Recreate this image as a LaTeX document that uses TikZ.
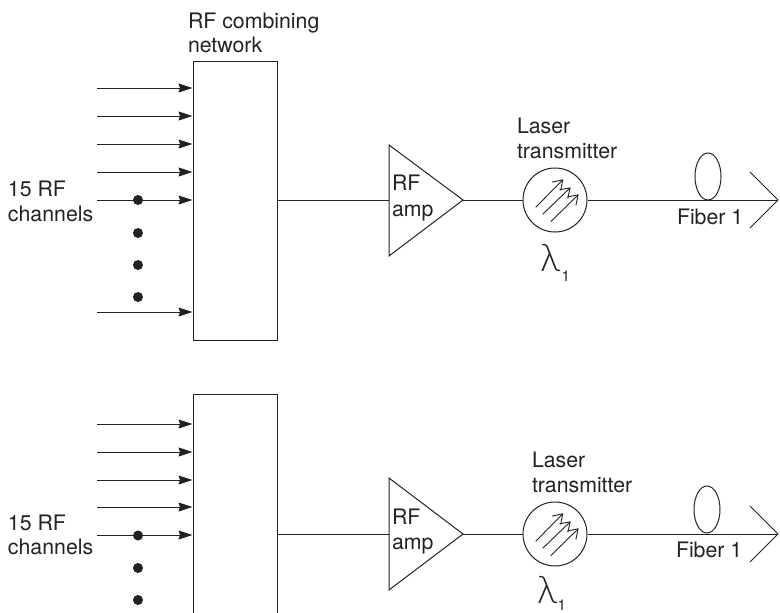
\documentclass[tikz,border=0pt]{standalone}
\usepackage{fontspec}
\setmainfont{TeX Gyre Heros}
\newfontfamily\greekfont{Lato Light}
\usetikzlibrary{arrows.meta}
\definecolor{ink}{HTML}{222222}
\tikzset{
  wire/.style={draw=ink,line width=1pt},
  feed/.style={wire,-{Stealth[length=14pt,width=9pt,inset=1.5pt]}},
  lbl/.style={anchor=base west,inner sep=0pt,outer sep=0pt,text=ink,font=\fontsize{21.3}{24}\selectfont},
  sub/.style={anchor=base west,inner sep=0pt,outer sep=0pt,text=ink,font=\fontsize{15}{16}\selectfont},
  lam/.style={anchor=base,inner sep=0pt,outer sep=0pt,text=ink,font=\greekfont\fontsize{38}{40}\selectfont},
  dotm/.style={circle,fill=ink,draw=none,minimum size=10pt,inner sep=0pt},
  combiner/.style={rectangle,draw=ink,line width=1pt,fill=white,minimum width=84pt,inner sep=0pt},
  laser/.style={circle,draw=ink,line width=1pt,minimum size=64pt,inner sep=0pt},
  coil/.style={ellipse,draw=ink,line width=1pt,minimum width=26pt,minimum height=47pt,inner sep=0pt},
  ray/.style={draw=ink,line width=.9pt,-{Straight Barb[length=9pt,width=12pt]}}
}
\usetikzlibrary{shapes.geometric}
\begin{document}
\begin{tikzpicture}[x=1pt,y=-1pt]
\useasboundingbox (0,0) rectangle (780,613);
\clip (0,0) rectangle (780,613);

% ---------- upper chain ----------
\node[combiner,minimum height=279pt] (boxA) at (235,200.5) {};
\foreach \i/\yy in {1/88,2/116,3/144,4/172,5/200,6/312}{
  \coordinate (inA\i) at (97,\yy);
  \draw[feed] (inA\i) -- (inA\i -| boxA.west);
}
\node[dotm] (dA1) at (138,200) {};
\node[dotm] (dA2) at (138,233) {};
\node[dotm] (dA3) at (138,265) {};
\node[dotm] (dA4) at (138,297) {};
\coordinate (tA1) at (389,145);
\coordinate (tA2) at (389,256);
\coordinate (tA3) at (463,200);
\coordinate (tAin) at (389,200);
\draw[wire,line join=miter] (tA1) -- (tA3) -- (tA2) -- cycle;
\draw[wire] (boxA.east |- tAin) -- (tAin);
\node[laser] (lasA) at (555,200) {};
\draw[wire] (tA3) -- (lasA);
\coordinate (endA) at (778,200);
\draw[wire] (lasA) -- (endA);
\coordinate (cA1) at (750,172);
\coordinate (cA2) at (750,228);
\draw[wire,line join=miter] (cA1) -- (endA) -- (cA2);
\node[coil] (coilA) at (708,176.5) {};
\foreach \x/\y/\u/\v in {535.7/207.3/563.3/179.3,542.7/214.3/570.7/187.3,550.7/221.7/578.7/194.3}
  \draw[ray] (\x,\y) -- (\u,\v);
\node[lbl] (tA) at (188,28) {RF combining};
\node[lbl] (tAb) at (188,52) {network};
\node[lbl] (chA) at (8,196) {15 RF};
\node[lbl] (chAb) at (8,221) {channels};
\node[lbl] (ampA) at (392,190) {RF};
\node[lbl] (ampAb) at (392,216) {amp};
\node[lbl] (lzA) at (517,133) {Laser};
\node[lbl] (lzAb) at (517,158) {transmitter};
\node[lbl] (fibA) at (677,224) {Fiber 1};
\node[lam] (lamA) at (550,271) {λ};
\node[sub] (lamAs) at (561.5,281.5) {1};

% ---------- lower chain ----------
\node[combiner,minimum height=300pt] (boxB) at (235,544) {};
\foreach \i/\yy in {1/424,2/452,3/480,4/507,5/535}{
  \coordinate (inB\i) at (97,\yy);
  \draw[feed] (inB\i) -- (inB\i -| boxB.west);
}
\node[dotm] (dB1) at (138,535.5) {};
\node[dotm] (dB2) at (138,568) {};
\node[dotm] (dB3) at (138,600) {};
\coordinate (tB1) at (389,478);
\coordinate (tB2) at (389,590);
\coordinate (tB3) at (463,534);
\coordinate (tBin) at (389,534);
\draw[wire,line join=miter] (tB1) -- (tB3) -- (tB2) -- cycle;
\draw[wire] (boxB.east |- tBin) -- (tBin);
\node[laser] (lasB) at (555,534) {};
\draw[wire] (tB3) -- (lasB);
\coordinate (endB) at (778,534);
\draw[wire] (lasB) -- (endB);
\coordinate (cB1) at (750,506);
\coordinate (cB2) at (750,562);
\draw[wire,line join=miter] (cB1) -- (endB) -- (cB2);
\node[coil] (coilB) at (707,509.5) {};
\foreach \x/\y/\u/\v in {535.7/541.3/563.3/513.3,542.7/548.3/570.7/521.3,550.7/555.7/578.7/528.3}
  \draw[ray] (\x,\y) -- (\u,\v);
\node[lbl] (chB) at (8,530) {15 RF};
\node[lbl] (chBb) at (8,554) {channels};
\node[lbl] (ampB) at (392,524) {RF};
\node[lbl] (ampBb) at (392,549) {amp};
\node[lbl] (lzB) at (532,467) {Laser};
\node[lbl] (lzBb) at (532,492) {transmitter};
\node[lbl] (fibB) at (676,557) {Fiber 1};
\node[lam] (lamB) at (547,603) {λ};
\node[sub] (lamBs) at (557.5,610) {1};
\end{tikzpicture}
\end{document}
